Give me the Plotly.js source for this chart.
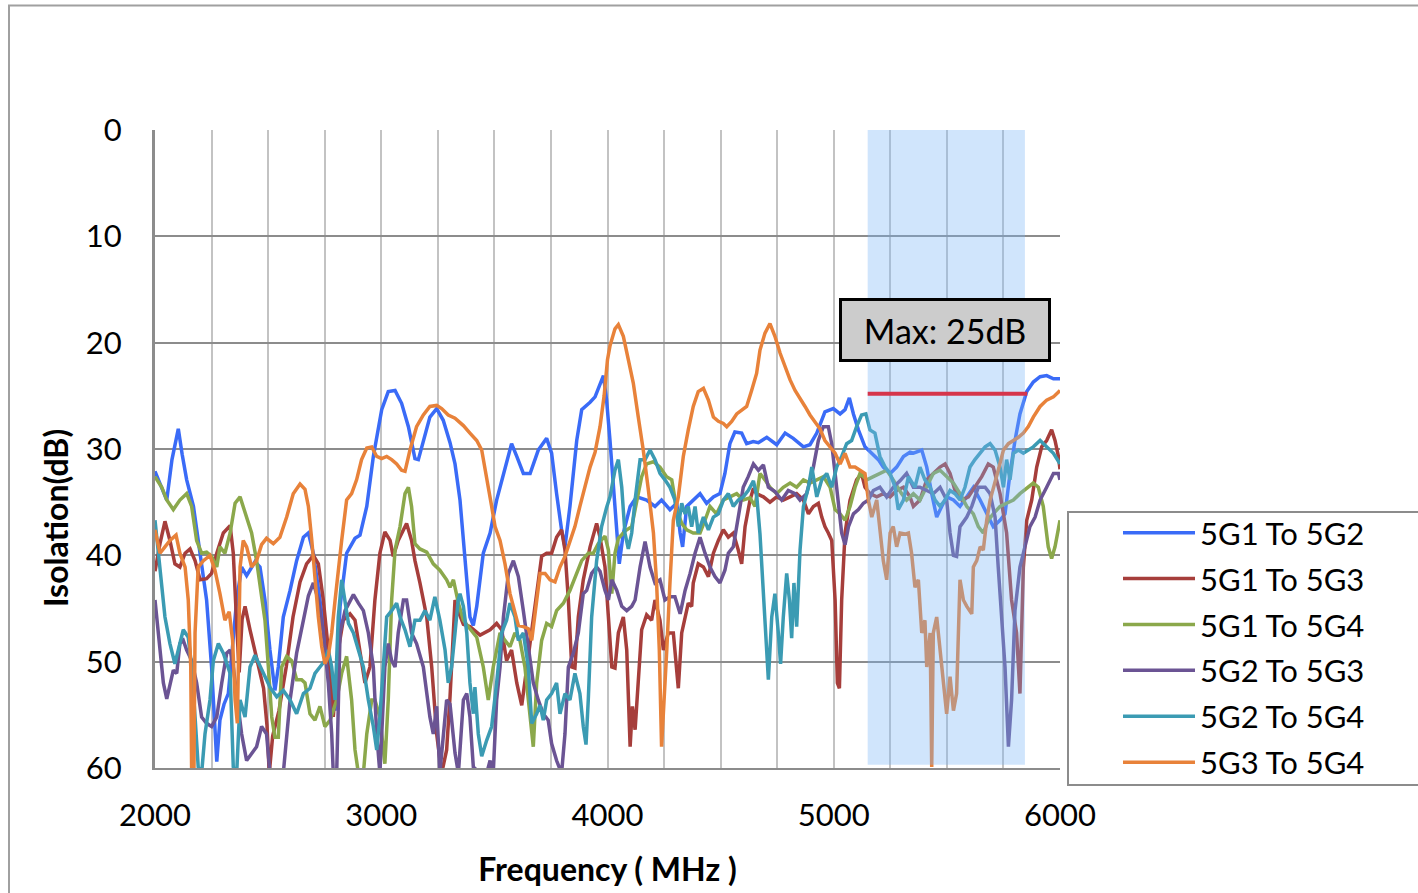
<!DOCTYPE html>
<html>
<head>
<meta charset="utf-8">
<script src="https://cdn.plot.ly/plotly-3.0.1.min.js"></script>
<style>html,body{margin:0;padding:0;background:#fff;}#chart{width:1418px;height:893px;}</style>
</head>
<body>
<div id="chart"></div>
<script>
// ---- Data (frequency in MHz, isolation in dB) ----
const seriesNames = ["5G1 To 5G2", "5G1 To 5G3", "5G1 To 5G4", "5G2 To 5G3", "5G2 To 5G4", "5G3 To 5G4"];
const seriesColors = ["#3a6bf7", "#a63e3b", "#8ba84b", "#6b5494", "#3b9bb3", "#e8823a"];

const freq12 = [2000,2025,2052,2075,2103,2120,2140,2170,2199,2228,2250,2273,2287,2305,2324,2340,2361,2383,2405,2442,2464,2486,2508,2530,2545,2567,2597,2626,2656,2678,2700,2729,2759,2788,2796,2818,2847,2884,2906,2936,2965,3002,3031,3061,3090,3120,3149,3164,3186,3215,3245,3274,3304,3326,3348,3370,3392,3407,3422,3451,3481,3510,3540,3576,3599,3628,3658,3694,3731,3753,3775,3797,3812,3834,3864,3886,3923,3945,3982,3996,4011,4026,4041,4052,4070,4100,4129,4173,4210,4239,4276,4306,4321,4332,4350,4379,4409,4438,4468,4497,4519,4541,4563,4593,4615,4644,4667,4704,4748,4785,4821,4866,4895,4925,4961,4998,5028,5050,5069,5087,5109,5138,5168,5197,5219,5249,5278,5308,5337,5352,5389,5411,5433,5455,5477,5499,5529,5558,5588,5617,5647,5676,5705,5735,5757,5779,5801,5823,5853,5882,5912,5941,5971,6000];
const iso12 = [32.1,33.5,34.8,31,28.1,30.5,32.9,35.4,39.8,44.2,50.5,59.4,55.5,54,53.0,49,44.2,41.1,41.9,40.6,41.1,44.2,48.9,52.7,50.5,45.8,43.3,40.5,38.3,37.9,39.8,44.2,48.9,53.6,54.6,44.8,39.8,38.4,38.1,35.4,30.7,26.3,24.6,24.5,25.7,27.9,30.9,31.0,29.2,27.0,26.2,27.3,29.4,31.4,34.8,40.5,45.8,46.6,44.8,39.8,37.9,34.8,32.3,29.5,30.7,32.3,32.3,30.1,29.0,30.4,34.2,37.6,39.2,35.4,29.2,26.3,25.6,25.1,23.1,25.4,29.2,33.2,37.9,40.8,37.9,35.4,34.5,34.8,35.4,34.8,35.7,35.1,37.9,39.2,35.4,34.8,34.2,35.1,34.5,34.2,32.3,29.5,28.4,28.5,29.5,29.3,29.4,28.9,29.6,28.5,29.0,29.8,29.6,28.5,26.5,26.2,26.7,26.3,25.2,26.7,28.2,29.8,30.4,31.0,31.7,32.3,31.7,30.7,30.3,30.4,30.1,31.7,34.2,36.4,35.4,34.5,34.8,35.4,34.5,33.6,34.8,36.1,37.3,36.7,36.1,32.3,29.2,26.7,24.6,23.7,23.2,23.1,23.4,23.4];

const freq13 = [2000,2022,2044,2066,2088,2110,2133,2155,2177,2199,2228,2250,2273,2302,2332,2346,2360,2372,2385,2398,2420,2450,2480,2495,2505,2520,2548,2580,2610,2641,2670,2700,2722,2744,2766,2788,2810,2832,2862,2884,2906,2928,2950,2972,2994,3016,3039,3053,3075,3098,3112,3134,3149,3171,3201,3223,3245,3267,3289,3304,3326,3345,3363,3392,3422,3437,3481,3510,3532,3554,3576,3599,3621,3643,3665,3687,3709,3731,3753,3775,3797,3812,3827,3842,3856,3871,3893,3923,3952,3967,3989,4004,4019,4033,4048,4070,4085,4100,4110,4122,4136,4151,4173,4195,4210,4232,4247,4269,4291,4313,4328,4343,4357,4372,4379,4401,4424,4446,4468,4490,4512,4534,4556,4578,4593,4608,4630,4645,4659,4689,4718,4748,4777,4807,4836,4866,4888,4910,4932,4947,4961,4976,4991,5006,5016,5025,5035,5050,5072,5101,5123,5138,5160,5190,5219,5249,5278,5308,5337,5352,5381,5411,5440,5470,5492,5514,5536,5566,5595,5624,5654,5683,5705,5735,5764,5786,5808,5823,5838,5853,5875,5897,5919,5941,5963,5978,5993,6000];
const iso13 = [41.5,38.9,36.8,38.6,40.8,41.1,39.8,39.4,40.5,42.3,42.2,41.7,39.8,37.9,37.2,39.8,46,51,46,44.8,47,49.6,52.5,56,60.5,57,54.6,50.5,45.8,42.5,40.8,40.0,40.8,44.2,48.9,55.2,48.9,46.1,45.5,46.1,48.9,52.0,50.5,44.2,39.8,37.8,38.6,40.1,38.6,37.6,37.0,38.6,40.5,42.6,45.8,50.5,56.8,60.5,58.3,53.3,44.2,45.5,46.5,46.7,47.3,47.5,47.0,46.4,47.0,49.9,48.9,52.0,54.1,50.5,47.3,43.3,40.1,39.8,39.8,38.3,37.6,39.5,44.2,50.5,50.6,45.8,42.3,39.2,37.0,38.3,41.1,45.8,50.5,50.6,47.3,45.8,48.9,58.0,54.2,56.4,52.0,47.0,45.6,46.1,44.2,46.1,48.9,47.3,47.3,52.5,47.3,45.8,44.5,44.8,42.6,40.8,41.1,42.0,39.8,38.6,37.6,38.3,37.9,39.5,40.8,37.3,34.8,33.7,34.2,34.5,35.0,34.5,34.8,34.5,34.2,34.8,36.1,35.4,35.1,36.4,37.3,37.9,38.6,44.2,52.0,52.5,44.2,37.9,34.8,32.9,32.3,33.6,34.2,34.5,34.2,34.5,33.9,33.6,34.5,35.4,34.8,32.9,32.3,31.7,31.4,32.3,33.9,34.8,34.5,33.6,32.6,31.4,31.7,34.2,37.9,44.2,47.3,53.0,41.1,36.7,34.8,31.7,29.8,29.2,28.2,29.2,30.7,31.9];

const freq14 = [2000,2030,2052,2081,2110,2140,2162,2184,2206,2228,2250,2273,2287,2309,2332,2354,2376,2405,2427,2449,2471,2486,2501,2516,2530,2545,2560,2582,2604,2626,2648,2663,2685,2707,2729,2751,2774,2803,2825,2847,2869,2884,2899,2921,2936,2958,2972,2994,3016,3031,3046,3061,3083,3105,3120,3134,3149,3171,3201,3230,3259,3289,3304,3319,3341,3363,3392,3422,3451,3473,3495,3525,3547,3569,3591,3613,3635,3658,3672,3687,3709,3731,3753,3775,3805,3834,3864,3886,3915,3937,3959,3989,4004,4019,4033,4048,4070,4085,4107,4129,4151,4173,4203,4232,4261,4284,4306,4328,4350,4379,4409,4431,4453,4482,4512,4541,4571,4600,4630,4652,4674,4696,4718,4748,4777,4807,4836,4866,4895,4925,4954,4984,5006,5028,5050,5072,5094,5116,5146,5175,5204,5234,5263,5300,5322,5352,5381,5411,5440,5470,5499,5529,5558,5588,5617,5639,5661,5683,5705,5735,5764,5794,5823,5853,5882,5904,5926,5948,5963,5978,6000];
const iso14 = [32.6,33.6,34.8,35.7,34.8,34.2,35.4,38.6,39.8,39.7,40.1,41.1,39.2,39.8,37.9,35.1,34.5,36.4,37.9,40.5,43.6,46.1,50.5,55.2,57.1,57.1,50.5,49.5,49.9,51.7,51.7,52.0,54.9,55.5,54.2,56.1,55.5,53.6,51.1,49.5,53.6,58.3,60.5,60.5,56.8,53.6,53.6,55.2,59.6,53.6,44.2,39.5,37.3,34.2,33.6,35.4,38.9,39.4,39.7,40.8,41.4,42.3,43.0,42.3,44.5,46.1,46.9,47.7,50.5,53.6,50.5,47.3,48.0,48.6,47.3,48.0,50.5,55.2,58.0,52.0,48.0,46.4,46.7,45.2,44.5,43.3,41.7,40.5,39.8,39.8,38.9,38.2,39.5,43.6,39.8,38.4,37.9,37.6,37.3,35.1,32.6,31.4,31.2,31.7,32.6,32.9,35.7,37.0,37.6,37.9,37.9,36.7,35.4,36.1,34.8,34.5,34.2,34.8,34.6,35.4,32.3,32.9,33.6,34.2,33.6,33.2,33.6,32.9,33.2,32.9,32.6,33.6,35.7,36.1,36.7,35.4,33.6,32.3,32.9,32.6,32.3,32.0,32.9,34.2,34.8,34.2,34.8,33.6,32.3,32.0,32.6,33.2,34.2,35.4,36.1,37.3,37.9,36.7,36.1,35.4,35.1,34.8,34.2,33.7,33.2,33.6,35.4,39.2,40.3,39.2,36.7];

const freq23 = [2000,2022,2037,2052,2066,2081,2096,2110,2125,2140,2162,2184,2206,2228,2250,2273,2295,2317,2332,2346,2364,2383,2405,2427,2449,2471,2493,2508,2567,2597,2626,2656,2678,2700,2722,2744,2766,2781,2788,2803,2818,2840,2862,2877,2899,2921,2943,2965,2980,2994,3016,3031,3046,3061,3075,3098,3112,3134,3156,3186,3215,3230,3245,3259,3289,3304,3326,3341,3363,3378,3392,3407,3437,3466,3481,3495,3510,3525,3540,3562,3584,3606,3628,3650,3672,3694,3716,3738,3753,3775,3797,3812,3827,3849,3871,3893,3908,3930,3952,3967,3989,4004,4019,4041,4063,4085,4107,4122,4144,4166,4188,4210,4232,4254,4276,4298,4321,4343,4365,4387,4409,4431,4453,4475,4497,4519,4534,4556,4578,4600,4622,4645,4667,4689,4711,4740,4770,4799,4829,4851,4880,4910,4932,4954,4976,4991,5006,5020,5035,5050,5065,5087,5109,5131,5153,5175,5204,5234,5263,5293,5322,5352,5381,5411,5440,5470,5499,5514,5529,5543,5558,5588,5610,5639,5669,5691,5713,5727,5742,5757,5772,5786,5801,5823,5845,5867,5890,5912,5941,5971,5993,6000];
const iso23 = [44.2,48.9,52.0,53.5,52.0,50.8,51.1,48.3,48.0,48.9,49.9,52.0,55.2,55.8,56.1,55.2,52.0,49.2,48.9,50.5,53.6,56.8,59.3,58.6,58.0,56.1,56.8,60.5,60.5,53.6,49.2,46.1,43.8,42.6,44.2,47.3,52.0,56.8,60.5,60.5,47.3,45.2,44.2,43.7,44.5,45.2,47.3,50.5,56.8,60.5,50.5,48.3,49.9,50.5,47.3,44.2,44.2,47.3,48.3,50.5,55.2,56.8,54.2,60.5,53.6,54.0,58.6,60.5,53.6,53.0,55.2,59.9,60.5,60.5,59.3,60.5,53.6,50.5,45.8,41.7,40.5,42.0,45.2,48.9,52.0,53.6,54.9,55.5,57.7,59.3,60.5,56.8,50.5,49.2,47.3,43.6,43.3,41.7,41.1,41.5,43.3,44.2,42.3,43.3,44.8,45.2,44.8,44.2,41.1,38.7,41.1,42.6,42.3,44.2,43.9,43.9,45.5,43.3,41.7,39.8,38.3,39.8,41.1,42.0,42.6,41.4,39.8,39.2,36.4,33.6,32.6,31.4,32.0,31.5,33.6,34.0,34.8,33.9,34.2,34.8,34.2,31.7,29.2,27.9,27.9,29.5,32.3,35.4,37.9,39.0,37.3,36.1,35.7,35.1,34.8,33.9,33.6,34.5,33.6,33.0,32.3,33.6,33.6,33.9,34.2,33.6,34.8,37.9,40.0,40.1,37.3,36.4,35.4,33.6,33.6,34.2,36.4,41.1,45.8,50.5,58.0,53.6,45.2,41.1,39.2,37.3,36.4,34.8,33.6,32.3,32.3,32.9];

const freq24 = [2000,2022,2044,2066,2088,2103,2125,2147,2162,2177,2191,2206,2221,2243,2258,2280,2302,2332,2346,2361,2376,2398,2420,2442,2464,2486,2508,2538,2567,2597,2626,2656,2685,2707,2729,2751,2766,2781,2796,2810,2825,2840,2855,2877,2899,2921,2943,2965,2980,2994,3009,3024,3046,3068,3083,3105,3127,3149,3171,3193,3215,3237,3259,3282,3296,3311,3326,3340,3348,3363,3378,3392,3407,3414,3429,3444,3466,3488,3510,3532,3554,3569,3591,3606,3628,3650,3665,3687,3702,3716,3731,3753,3775,3790,3812,3834,3856,3878,3893,3905,3915,3930,3952,3974,3996,4011,4033,4048,4063,4077,4092,4107,4122,4144,4166,4188,4210,4232,4254,4276,4298,4313,4328,4343,4357,4372,4387,4401,4424,4446,4468,4490,4512,4534,4556,4578,4600,4622,4645,4660,4674,4682,4696,4711,4726,4740,4755,4765,4777,4792,4804,4814,4824,4836,4851,4866,4888,4903,4925,4947,4969,4991,5013,5035,5057,5079,5101,5123,5142,5160,5182,5204,5227,5249,5271,5285,5308,5330,5359,5381,5403,5426,5448,5470,5492,5514,5536,5558,5580,5602,5624,5647,5669,5691,5713,5735,5750,5764,5779,5794,5816,5838,5860,5882,5912,5941,5971,6000];
const iso24 = [36.7,41.1,45.8,48.3,50.2,48.9,47.0,47.7,50.5,55.2,59.9,60.5,56.8,53.6,49.9,48.3,49.2,51.1,59.9,60.5,53.6,55.2,50.5,49.4,50.5,51.4,52.4,53.3,52.7,53.6,54.9,53.0,52.5,51.1,50.5,49.9,48.9,50.5,53.6,45.8,42.3,44.2,46.4,47.3,48.9,50.5,53.6,56.1,58.3,55.2,50.5,45.8,45.2,44.5,45.8,47.0,48.6,46.1,46.1,45.2,46.1,43.9,46.1,48.9,52.0,50.5,47.3,44.2,43.6,44.8,47.3,52.0,54.9,52.4,56.8,58.9,57.4,56.1,52.0,47.3,46.1,44.5,45.8,48.0,47.3,50.5,55.8,54.9,54.1,55.5,53.6,53.0,52.0,54.9,53.0,53.6,51.1,53.0,56.1,57.8,53.6,45.8,40.5,37.3,35.5,34.5,32.0,31.0,33.6,37.9,39.4,37.9,34.8,31.0,31.0,30.1,31.0,32.3,32.9,33.6,34.8,37.3,35.1,36.1,35.4,37.3,35.4,37.9,36.4,37.6,36.4,36.1,34.8,34.2,35.4,34.8,34.5,33.9,33.0,34.5,38,41.1,47.3,51.7,45.8,43.6,47.3,50.2,45.8,41.7,44.2,47.8,42.6,46.7,39.5,35.4,33.6,31.7,34.5,32.9,32.3,33.6,31.7,30.7,29.5,29.2,27.9,26.8,26.7,28.2,28.5,30.7,31.7,32.3,33.6,35.7,34.8,32.6,33.6,31.7,32.9,33.6,34.8,35.4,34.8,33.9,34.2,34.8,33.6,31.7,31.0,30.4,29.8,29.5,30.1,31.7,33.6,31.0,32.9,30.4,30.1,30.4,30.1,29.8,29.2,29.8,30.4,31.4];

const freq34 = [2000,2022,2044,2066,2093,2110,2133,2147,2158,2162,2172,2177,2191,2214,2243,2265,2287,2309,2328,2343,2354,2364,2376,2390,2405,2427,2449,2471,2493,2523,2552,2582,2611,2641,2663,2678,2693,2707,2722,2737,2751,2766,2781,2796,2810,2825,2847,2869,2891,2913,2936,2958,2980,3002,3024,3046,3068,3090,3105,3127,3156,3186,3215,3245,3267,3296,3326,3363,3392,3422,3444,3459,3473,3488,3503,3525,3547,3569,3591,3606,3628,3650,3665,3680,3702,3724,3746,3768,3790,3812,3834,3856,3878,3901,3923,3945,3967,3985,4000,4011,4033,4048,4070,4092,4114,4136,4158,4181,4203,4217,4229,4239,4251,4262,4276,4291,4313,4335,4357,4379,4401,4424,4446,4468,4490,4512,4527,4549,4571,4593,4615,4637,4659,4674,4696,4718,4740,4763,4785,4807,4829,4851,4873,4895,4917,4939,4961,4984,5006,5028,5050,5072,5094,5116,5138,5153,5168,5190,5204,5219,5234,5249,5263,5278,5293,5315,5330,5344,5359,5374,5389,5403,5411,5426,5433,5440,5455,5470,5484,5499,5514,5529,5543,5558,5573,5588,5610,5617,5632,5647,5661,5676,5691,5705,5727,5750,5772,5794,5816,5838,5860,5882,5912,5941,5971,6000];
const iso34 = [37.6,39.8,39.2,38.6,38.1,39.8,41.1,44.2,50.5,60.5,60.5,47.3,41.1,40.5,40.0,41.4,43.6,46.1,45.3,48.0,53.6,55.8,41.1,38.6,39.2,41.1,40.5,39.0,38.4,38.9,38.3,36.4,34.2,33.3,33.8,35.4,38.6,42.6,45.8,48.6,50.2,49.5,47.3,44.2,41.4,38.6,34.8,34.2,32.9,31.0,29.9,29.8,30.7,30.9,30.7,31.0,31.4,32.0,32.1,30.1,27.9,26.8,26.0,25.9,26.2,26.8,27.1,27.8,28.5,29.2,30.1,31.7,33.6,35.4,37.3,38.6,40.8,43.6,45.5,46.6,46.7,46.9,48.0,45.2,41.7,41.7,42.3,42.5,41.1,40.1,38.6,37.3,35.4,33.6,31.7,30.3,27.9,25.0,21.6,20.3,18.7,18.3,19.4,21.6,23.8,27.0,30.1,33.9,37.9,42.6,48.9,58.0,53.6,48.9,42.6,36.7,34.5,30.7,28.2,26.0,24.6,24.3,25.4,27.0,27.4,27.6,27.9,27.4,26.7,26.3,26.0,24.5,22.9,20.7,19.1,18.2,19.4,21.0,22.3,23.5,24.5,25.2,26.0,26.8,27.4,28.1,29.2,29.8,30.4,31.4,30.4,31.7,31.7,32.0,32.3,34.8,36.4,34.8,37.9,40.5,42.3,37.9,37.3,39.2,37.9,38.0,37.9,39.8,43.0,42.3,47.3,46.1,50.5,47.3,59.9,47.3,45.8,48.9,51.4,54.9,51.4,54.6,53.0,42.3,44.2,44.8,45.5,41.1,40.5,39.2,39.5,36.7,34.8,33.6,32.0,30.1,29.5,29.2,28.9,28.5,27.9,27.0,26.0,25.4,25.1,24.5];

const seriesFreq = [freq12, freq13, freq14, freq23, freq24, freq34];
const seriesIso = [iso12, iso13, iso14, iso23, iso24, iso34];

const xTickVals = [2000, 3000, 4000, 5000, 6000];
const yTickVals = [0, 10, 20, 30, 40, 50, 60];
const bandStart = 5150, bandEnd = 5845;
const maxLimit = 24.8;
const maxLabel = "Max: 25dB";

// ---- Traces ----
const traces = seriesNames.map((name, i) => ({
  type: 'scatter', mode: 'lines', name: name,
  x: seriesFreq[i], y: seriesIso[i],
  line: {color: seriesColors[i], width: 3.5},
  legendgroup: 'g' + i
}));

const FONT = 'Lato, "Open Sans", sans-serif';
const W = 1418, H = 893, L = 155, R = 358, T = 130, B = 125;
const pw = W - L - R, ph = H - T - B;
const px2x = p => (p - L) / pw;
const py2y = p => (H - B - p) / ph;

const layout = {
  width: W, height: H,
  margin: {l: L, r: R, t: T, b: B, pad: 0},
  paper_bgcolor: '#ffffff', plot_bgcolor: '#ffffff',
  font: {family: FONT, size: 31, color: '#000'},
  showlegend: true,
  legend: {
    x: px2x(1118), xanchor: 'left', y: py2y(506), yanchor: 'top',
    bgcolor: 'rgba(0,0,0,0)', borderwidth: 0,
    font: {family: FONT, size: 31, color: '#000'},
    tracegroupgap: 2.6, itemwidth: 72, traceorder: 'grouped'
  },
  xaxis: {
    range: [2000, 6000], tickvals: xTickVals, ticks: '',
    showgrid: true, gridcolor: '#c3c3c3', gridwidth: 2,
    minor: {dtick: 250, showgrid: true, gridcolor: '#c3c3c3', gridwidth: 2},
    showline: true, linecolor: '#8c8c8c', linewidth: 2,
    zeroline: false, ticklabelstandoff: 19,
    tickfont: {family: FONT, size: 31, color: '#000'},
    title: {text: 'Frequency ( MHz )', font: {family: FONT, size: 32, color: '#000', weight: 700}, standoff: 26}
  },
  yaxis: {
    range: [60, 0], tickvals: yTickVals, ticks: '',
    showgrid: true, gridcolor: '#8c8c8c', gridwidth: 2,
    showline: true, linecolor: '#8c8c8c', linewidth: 3,
    zeroline: false, ticklabelstandoff: 24,
    tickfont: {family: FONT, size: 31, color: '#000'}
  },
  shapes: [
    {type: 'rect', xref: 'paper', yref: 'paper', x0: px2x(9), x1: px2x(1440), y0: py2y(910), y1: py2y(5.5),
     line: {color: '#a0a0a0', width: 2}, fillcolor: 'rgba(0,0,0,0)', layer: 'below'},
    {type: 'rect', xref: 'x', yref: 'y', x0: bandStart, x1: bandEnd, y0: 0, y1: 59.7,
     line: {width: 0}, fillcolor: 'rgba(120,180,245,0.35)', layer: 'above'},
    {type: 'line', xref: 'x', yref: 'y', x0: bandStart, x1: bandEnd + 10, y0: maxLimit, y1: maxLimit,
     line: {color: 'rgb(214,53,75)', width: 4}, layer: 'above'},
    {type: 'rect', xref: 'paper', yref: 'paper', x0: px2x(1068), x1: px2x(1440), y0: py2y(785), y1: py2y(512),
     line: {color: '#8c8c8c', width: 2}, fillcolor: 'rgba(255,255,255,0)', layer: 'below'}
  ],
  annotations: [
    {xref: 'x', yref: 'y', x: 5492, y: 18.8, text: maxLabel, showarrow: false,
     font: {family: FONT, size: 34, color: '#000'}, bgcolor: '#cccccc', bordercolor: '#000', borderwidth: 3,
     width: 206, height: 58, borderpad: 0, xanchor: 'center', yanchor: 'middle'},
    {xref: 'paper', yref: 'paper', x: px2x(55), y: py2y(518), text: 'Isolation(dB)', textangle: -90, showarrow: false,
     font: {family: FONT, size: 32, color: '#000', weight: 700}, xanchor: 'center', yanchor: 'middle'}
  ]
};

Plotly.newPlot('chart', traces, layout, {displayModeBar: false, staticPlot: true});
</script>
</body>
</html>
